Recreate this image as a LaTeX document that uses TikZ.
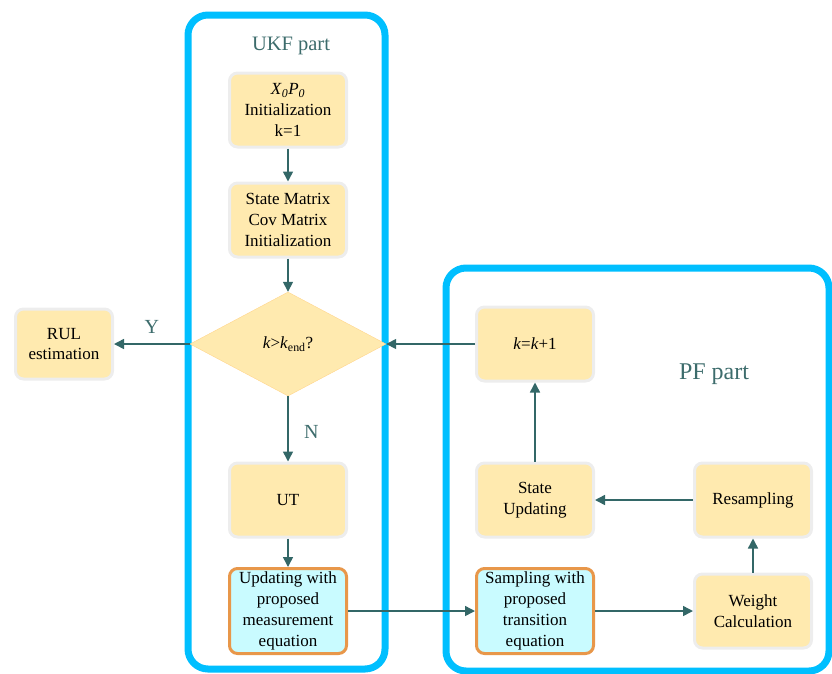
\documentclass[tikz,border=0pt]{standalone}
\usepackage{fontspec}
\setmainfont{Liberation Serif}
\usepackage{tikz}
\usetikzlibrary{arrows.meta, shapes.geometric, calc}
\definecolor{frameblue}{HTML}{00BFFF}
\definecolor{boxyellow}{HTML}{FFEAAF}
\definecolor{boxcyan}{HTML}{C9FBFF}
\definecolor{boxorange}{HTML}{E8974A}
\definecolor{linkteal}{HTML}{336767}
\definecolor{labelteal}{HTML}{3D6C6C}

\begin{document}
\begin{tikzpicture}[x=1pt, y=-1pt,
    every node/.style = {font=\fontsize{17}{20.8}\selectfont, align=center},
    frame/.style      = {draw=frameblue, line width=7pt, rounded corners=20pt},
    process/.style    = {draw=black!7, line width=3pt, fill=boxyellow,
      rounded corners=8pt, minimum width=117pt, minimum height=74pt, inner sep=2pt},
    proposed/.style   = {process, draw=boxorange, fill=boxcyan, minimum height=85pt},
    decision/.style   = {diamond, draw=boxyellow!80!orange, fill=boxyellow,
      minimum width=196pt, minimum height=104pt, inner sep=0pt},
    link/.style       = {draw=linkteal, line width=1.5pt,
      -{Triangle[length=10pt,width=10pt]}},
    partlabel/.style  = {text=labelteal},
    answer/.style     = {partlabel, font=\fontsize{20}{24}\selectfont},
  ]
  \useasboundingbox (0,0) rectangle (832,673);
  % frames of the two parts
  \draw[frame] (188,15) rectangle (385,669);
  \draw[frame] (446,268) rectangle (829,671);
  \node[partlabel, font=\fontsize{20.5}{24}\selectfont] (ukf) at (291,46) {UKF part};
  \node[partlabel, font=\fontsize{24}{28}\selectfont] (pf) at (714,374) {PF part};

  % UKF part
  \node[process] (init) at (288,110) {\textit{X}\textsubscript{\textit{0}}\textit{P}\textsubscript{\textit{0}}\\Initialization\\k=1};
  \node[process] (statemat) at (288,220) {State Matrix\\Cov Matrix\\Initialization};
  \node[decision] (check) at (288,344) {\textit{k}>\textit{k}\textsubscript{end}?};
  \node[process, minimum width=97pt, minimum height=70pt] (rul) at (64,344) {RUL\\estimation};
  \node[process] (ut) at (288,500) {UT};
  \node[proposed] (update) at (288,611) {Updating with\\proposed\\measurement\\equation};

  % PF part
  \node[process] (incr) at (535,344) {\textit{k}=\textit{k}+1};
  \node[process] (stateup) at (535,500) {State\\Updating};
  \node[process] (resamp) at (753,500) {Resampling};
  \node[proposed] (sampling) at (535,611) {Sampling with\\proposed\\transition\\equation};
  \node[process] (weight) at (753,611) {Weight\\Calculation};

  % connectors
  \draw[link] (init) -- (statemat);
  \draw[link] (statemat) -- (check);
  \draw[link] (check.west) -- node[answer, above=6pt] (yes) {Y} (rul);
  \draw[link] (check.south) -- node[answer, right=12pt, yshift=-3pt] (no) {N} (ut);
  \draw[link] (ut) -- (update);
  \draw[link] (update) -- (sampling);
  \draw[link] (sampling) -- (weight);
  \draw[link] (weight) -- (resamp);
  \draw[link] (resamp) -- (stateup);
  \draw[link] (stateup) -- (incr);
  \draw[link] (incr) -- (check.east);
\end{tikzpicture}
\end{document}
